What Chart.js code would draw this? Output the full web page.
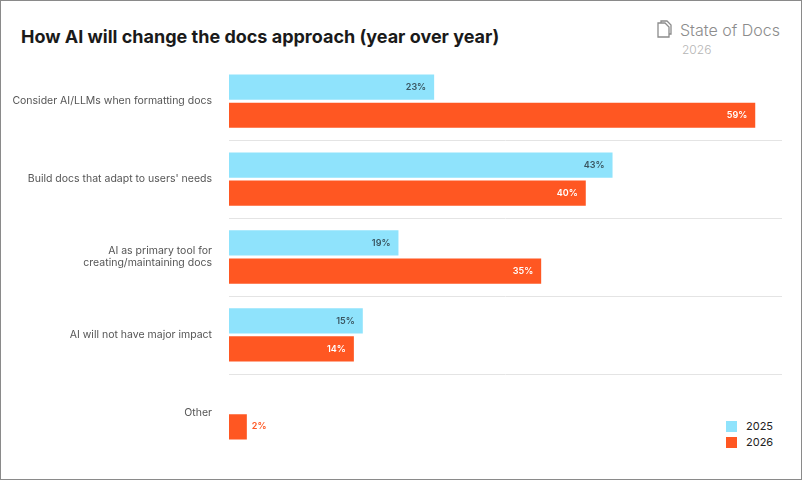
<!DOCTYPE html>
<html>
<head>
<meta charset="utf-8">
<script src="https://cdn.jsdelivr.net/npm/chart.js@4"></script>
<style>
  html, body { margin: 0; padding: 0; background: #fff; }
  body { width: 802px; height: 480px; position: relative; font-family: Inter, "Noto Sans", sans-serif; }
  .frame { position: absolute; left: 0; top: 0; width: 800px; height: 478px; border: 1px solid #8a8a8a; }
  h1 { position: absolute; left: 21px; top: 26px; margin: 0; font-size: 18px; font-weight: 700; color: #1a1a1a; }
  .logo { position: absolute; left: 656px; top: 20px; color: #8c8c8c; font-size: 16px; font-weight: 300; }
  .logo .yr { font-size: 12px; color: #b5b5b5; margin-left: 26px; margin-top: 2px; }
  .legend { position: absolute; left: 726px; top: 418px; font-size: 11px; color: #222; }
  .legend div { display: flex; align-items: center; height: 16px; }
  .legend span { display: inline-block; width: 11px; height: 11px; margin-right: 9px; }
  #wrap { position: absolute; left: 0; top: 47px; width: 802px; height: 420px; }
</style>
</head>
<body>
<div class="frame"></div>
<h1>How AI will change the docs approach (year over year)</h1>
<div class="logo">
  <div><svg width="18" height="18" viewBox="0 0 18 18" style="vertical-align:-2px;margin-right:6px"><path d="M2 3 h7 l4 4 v10 h-11 z" fill="none" stroke="#8c8c8c" stroke-width="1.3"/><path d="M5 3 V1 h6 l4 4 v9 h-2" fill="none" stroke="#8c8c8c" stroke-width="1.3"/></svg>State of Docs</div>
  <div class="yr">2026</div>
</div>
<div class="legend">
  <div><span style="background:#8fe3fc"></span>2025</div>
  <div><span style="background:#ff5722"></span>2026</div>
</div>
<div id="wrap"><canvas id="chart"></canvas></div>
<script>
const categories = [
  "Consider AI/LLMs when formatting docs",
  "Build docs that adapt to users' needs",
  ["AI as primary tool for", "creating/maintaining docs"],
  "AI will not have major impact",
  "Other"
];
const values2025 = [23, 43, 19, 15, null];
const values2026 = [59, 40, 35, 14, 2];

// separators between categories + value labels
const labelPlugin = {
  id: "barLabels",
  beforeDatasetsDraw(chart) {
    const ctx = chart.ctx, y = chart.scales.y, area = chart.chartArea;
    ctx.save();
    ctx.strokeStyle = "#e4e4e4";
    ctx.lineWidth = 1;
    for (let i = 0; i < categories.length - 1; i++) {
      const yy = Math.round((y.getPixelForValue(i) + y.getPixelForValue(i + 1)) / 2) + 0.5;
      ctx.beginPath();
      ctx.moveTo(area.left, yy);
      ctx.lineTo(area.right, yy);
      ctx.stroke();
    }
    ctx.restore();
  },
  afterDatasetsDraw(chart) {
    const ctx = chart.ctx;
    ctx.save();
    ctx.font = "600 9px Inter, sans-serif";
    ctx.textBaseline = "middle";
    chart.data.datasets.forEach((ds, di) => {
      chart.getDatasetMeta(di).data.forEach((bar, i) => {
        const v = ds.data[i];
        if (v == null) return;
        const txt = v + "%";
        if (bar.x - bar.base < 30) {
          ctx.fillStyle = "#ff5722";
          ctx.textAlign = "left";
          ctx.fillText(txt, bar.x + 5, bar.y);
        } else {
          ctx.fillStyle = di === 0 ? "#3a5560" : "#ffffff";
          ctx.textAlign = "right";
          ctx.fillText(txt, bar.x - 8, bar.y);
        }
      });
    });
    ctx.restore();
  }
};

new Chart(document.getElementById("chart"), {
  type: "bar",
  data: {
    labels: categories,
    datasets: [
      { label: "2025", data: values2025, backgroundColor: "#8fe3fc" },
      { label: "2026", data: values2026, backgroundColor: "#ff5722" }
    ]
  },
  options: {
    indexAxis: "y",
    responsive: true,
    maintainAspectRatio: false,
    animation: false,
    layout: { padding: { left: 0, right: 20, top: 0, bottom: 0 } },
    datasets: { bar: { categoryPercentage: 0.72, barPercentage: 0.9 } },
    plugins: { legend: { display: false }, tooltip: { enabled: false } },
    scales: {
      x: { min: 0, max: 62, display: false },
      y: {
        afterFit(scale) { scale.width = 229; },
        border: { display: false },
        grid: { display: false },
        ticks: { color: "#555", font: { size: 10.5, family: "Inter, sans-serif" }, padding: 9 }
      }
    }
  },
  plugins: [labelPlugin]
});
</script>
</body>
</html>
